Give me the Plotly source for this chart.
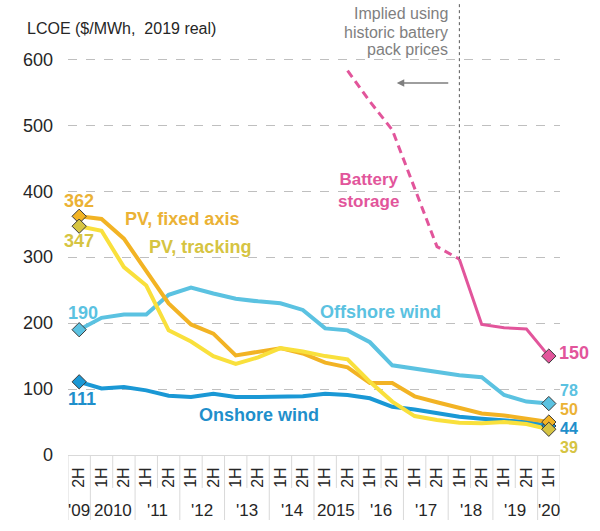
import plotly.graph_objects as go

# Half-year periods on the category axis
periods = ["2H'09", "1H'10", "2H'10", "1H'11", "2H'11", "1H'12", "2H'12", "1H'13",
           "2H'13", "1H'14", "2H'14", "1H'15", "2H'15", "1H'16", "2H'16", "1H'17",
           "2H'17", "1H'18", "2H'18", "1H'19", "2H'19", "1H'20"]
halves = [p[:2] for p in periods]
years = ["'09", "2010", "'11", "'12", "'13", "'14", "2015", "'16", "'17", "'18", "'19", "'20"]
year_sizes = [1, 2, 2, 2, 2, 2, 2, 2, 2, 2, 2, 1]

# LCOE, $/MWh (2019 real)
onshore = [111, 101, 103, 98, 90, 88, 93, 88, 88, 89, 89, 93, 91, 86, 73, 69, 64, 58, 55, 53, 50, 44]
offshore = [190, 208, 213, 213, 243, 254, 245, 237, 233, 230, 220, 192, 189, 171, 136, 131, 126, 121, 118, 91, 81, 78]
pv_fixed = [362, 358, 328, 280, 230, 198, 184, 151, 156, 162, 154, 140, 133, 109, 109, 89, 80, 71, 63, 60, 55, 50]
pv_tracking = [347, 340, 285, 257, 189, 172, 150, 138, 148, 162, 157, 150, 145, 111, 81, 59, 53, 49, 48, 50, 47, 39]
battery = [None] * 12 + [583, 536, 493, 406, 316, 297, 198, 193, 191, 150]
implied_end = "1H'18"  # up to here battery LCOE is implied from historic pack prices

FONT = "Liberation Sans, Arial, sans-serif"
C_ON, C_ON_TXT = "#1a98d5", "#1f8fcb"
C_OFF = "#5bc2e1"
C_FIX, C_FIX_TXT = "#f2b324", "#ebb235"
C_TRK, C_TRK_TXT = "#f9e03c", "#d6c442"
C_BAT = "#e2559b"

k = periods.index(implied_end)
bat_implied = battery[:k + 1]
bat_actual = [None] * k + battery[k:]

fig = go.Figure()

series = [
    ("Offshore wind", offshore, C_OFF, C_OFF),
    ("Onshore wind", onshore, C_ON, C_ON),
    ("PV, fixed axis", pv_fixed, C_FIX, C_FIX),
    ("PV, tracking", pv_tracking, C_TRK, C_TRK_TXT),
]
for name, vals, col, mcol in series:
    fig.add_trace(go.Scatter(x=periods, y=vals, mode="lines", name=name,
                             line=dict(color=col, width=4)))

fig.add_trace(go.Scatter(x=periods[:k + 1], y=bat_implied, mode="lines",
                         line=dict(color=C_BAT, width=3, dash="8px,5px")))
fig.add_trace(go.Scatter(x=periods, y=bat_actual, mode="lines", connectgaps=False,
                         line=dict(color=C_BAT, width=3)))

# diamonds at first and last points
for name, vals, col, mcol in series:
    fig.add_trace(go.Scatter(x=[periods[0], periods[-1]], y=[vals[0], vals[-1]], mode="markers",
                             marker=dict(symbol="diamond", size=11, color=mcol,
                                         line=dict(color="#3a3a3a", width=1))))
fig.add_trace(go.Scatter(x=[periods[-1]], y=[battery[-1]], mode="markers",
                         marker=dict(symbol="diamond", size=11, color=C_BAT,
                                     line=dict(color="#3a3a3a", width=1))))

ann = []
lbl = dict(size=18, family=FONT)

# start values
ann.append(dict(x=0, y=385, text=f"<b>{pv_fixed[0]}</b>", font=dict(lbl, color=C_FIX_TXT)))
ann.append(dict(x=0, y=324, text=f"<b>{pv_tracking[0]}</b>", font=dict(lbl, color=C_TRK_TXT)))
ann.append(dict(x=0.18, y=216, text=f"<b>{offshore[0]}</b>", font=dict(lbl, color=C_OFF)))
ann.append(dict(x=0.14, y=85, text=f"<b>{onshore[0]}</b>", font=dict(lbl, color=C_ON_TXT)))

# series names
ann.append(dict(x=4.6, y=358, text="<b>PV, fixed axis</b>", font=dict(lbl, color=C_FIX_TXT)))
ann.append(dict(x=5.38, y=315, text="<b>PV, tracking</b>", font=dict(lbl, color=C_TRK_TXT)))
ann.append(dict(x=8.06, y=61, text="<b>Onshore wind</b>", font=dict(lbl, color=C_ON_TXT)))
ann.append(dict(x=13.46, y=217, text="<b>Offshore wind</b>", font=dict(lbl, color=C_OFF)))
ann.append(dict(x=12.93, y=401, text="<b>Battery<br>storage</b>", font=dict(lbl, size=17, color=C_BAT)))

# end values
ann.append(dict(x=21, y=155, text=f"<b>{battery[-1]}</b>", xanchor="left", xshift=8,
                font=dict(lbl, color=C_BAT)))
for txt, yv, col in [(offshore[-1], 98.5, C_OFF), (pv_fixed[-1], 69.7, C_FIX_TXT),
                     (onshore[-1], 40.9, C_ON_TXT), (pv_tracking[-1], 12.1, C_TRK_TXT)]:
    ann.append(dict(x=21, y=yv, text=f"<b>{txt}</b>", xanchor="left", xshift=9,
                    font=dict(lbl, size=16, color=col)))

for a in ann:
    a.setdefault("xanchor", "center")
    a.update(xref="x", yref="y", showarrow=False, yanchor="middle")

# note about implied battery prices
for txt, yv in [("Implied using", 670), ("historic battery", 641), ("pack prices", 615)]:
    ann.append(dict(x=16.57, y=yv, xref="x", yref="y", text=txt, showarrow=False,
                    xanchor="right", yanchor="middle", font=dict(size=16, family=FONT, color="#7f7f7f")))
ann.append(dict(x=14.2, y=564, ax=16.57, ay=564, xref="x", yref="y", axref="x", ayref="y",
                text="", showarrow=True, arrowhead=2, arrowsize=1, arrowwidth=1.5, arrowcolor="#7f7f7f"))

ann.append(dict(x=-0.087, y=0.938, xref="paper", yref="paper", text="LCOE ($/MWh,  2019 real)",
                showarrow=False, xanchor="left", yanchor="middle",
                font=dict(size=16, family=FONT, color="#262626")))

# year labels under the half-year labels
start = 0
for yr, n in zip(years, year_sizes):
    ann.append(dict(x=start + (n - 1) / 2, y=0, xref="x", yref="paper", yshift=-55, text=yr,
                    showarrow=False, xanchor="center", yanchor="middle",
                    font=dict(size=17, family=FONT, color="#262626")))
    start += n

# category separators below the axis
shapes = []
group_edges = [0]
for n in year_sizes:
    group_edges.append(group_edges[-1] + n)
for b in range(len(periods) + 1):
    long = b in group_edges
    shapes.append(dict(type="line", xref="x", yref="paper", x0=b - 0.5, x1=b - 0.5,
                       y0=0, y1=-(65 if long else 33) / 455, line=dict(color="#d9d9d9", width=1)))
# boundary between implied and reported battery prices
shapes.append(dict(type="line", xref="x", yref="y", x0=k, x1=k, y0=battery[k], y1=686,
                   line=dict(color="#595959", width=1, dash="dot")))

fig.update_layout(
    width=600, height=531,
    margin=dict(l=68, r=40, t=0, b=76),
    plot_bgcolor="white", paper_bgcolor="white",
    showlegend=False,
    font=dict(family=FONT, color="#262626"),
    annotations=ann, shapes=shapes,
    xaxis=dict(type="category", categoryorder="array", categoryarray=periods,
               tickmode="array", tickvals=periods, ticktext=halves, tickangle=-90,
               ticks="", showgrid=False, showline=True, linecolor="#d9d9d9",
               ticklabelstandoff=5,
               tickfont=dict(size=16, color="#262626"), range=[-0.5, 21.5]),
    yaxis=dict(range=[0, 690], tickvals=[0, 100, 200, 300, 400, 500, 600],
               showgrid=True, gridcolor="#bfbfbf", griddash="dash", gridwidth=1,
               zeroline=False, showline=False, ticks="", ticklabelstandoff=14,
               tickfont=dict(size=18, color="#262626")),
)

# the page's default body margin would shift the 600x531 figure
fig.write_html("out.html", config={"displayModeBar": False},
               post_script="document.body.style.margin='0px';")
